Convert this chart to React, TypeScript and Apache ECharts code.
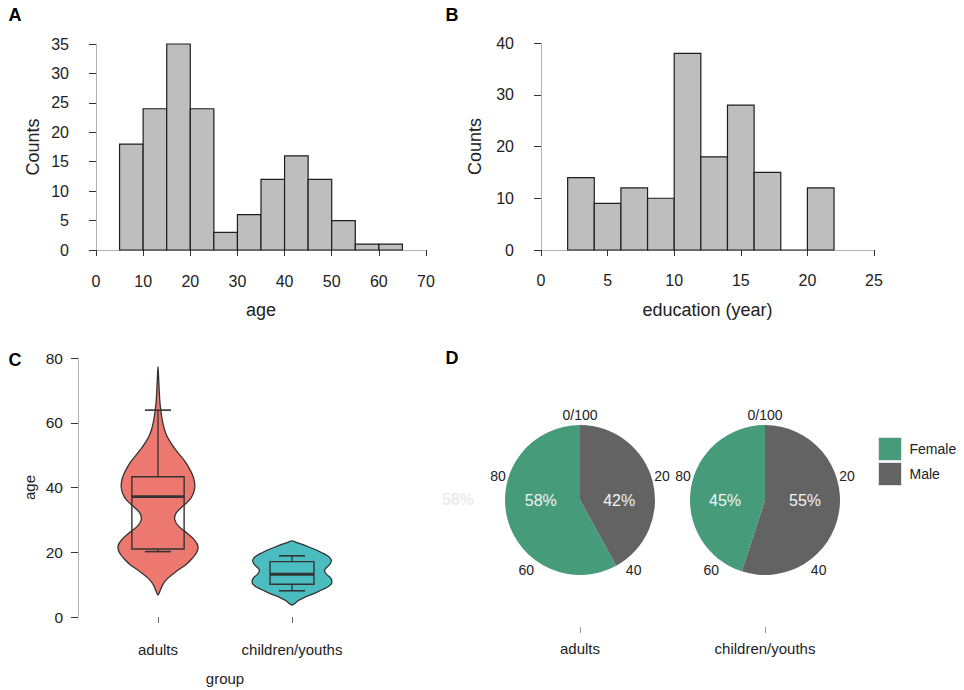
import React, { useEffect, useRef } from 'react';
import * as echarts from 'echarts';

// ---------- data ----------
const ageEdges = [5, 10, 15, 20, 25, 30, 35, 40, 45, 50, 55, 60, 65];
const ageCounts = [18, 24, 35, 24, 3, 6, 12, 16, 12, 5, 1, 1];

const eduEdges = [2, 4, 6, 8, 10, 12, 14, 16, 18, 20, 22];
const eduCounts = [14, 9, 12, 10, 38, 18, 28, 15, 0, 12];

const groups = ['adults', 'children/youths'];

// violin outlines: age and relative half-width (1 = widest)
const adultsViolinAge = [6.8, 8, 10, 12, 14, 16, 18, 20, 22, 24, 26, 28, 30, 32, 34, 36, 38, 40, 42, 44, 46, 48, 50, 52, 54, 56, 58, 60, 62, 64, 66, 70, 74, 77.3];
const adultsViolinWidth = [0, 0.05, 0.12, 0.25, 0.45, 0.68, 0.85, 0.97, 1.0, 0.9, 0.72, 0.52, 0.42, 0.45, 0.6, 0.78, 0.88, 0.92, 0.91, 0.86, 0.78, 0.68, 0.55, 0.42, 0.31, 0.22, 0.16, 0.12, 0.09, 0.07, 0.05, 0.03, 0.015, 0];
const childrenViolinAge = [3.7, 5, 6, 7, 8, 9, 10, 11, 12, 13, 14, 15, 16, 17, 18, 19, 20, 21, 22, 23, 23.5];
const childrenViolinWidth = [0, 0.15, 0.3, 0.5, 0.68, 0.85, 0.97, 1.0, 0.97, 0.88, 0.82, 0.84, 0.93, 0.98, 0.97, 0.88, 0.72, 0.55, 0.35, 0.12, 0];

// box stats: [lower whisker, Q1, median, Q3, upper whisker]
const adultsBox = [20.2, 21, 37.2, 43.3, 63.9];
const childrenBox = [8.1, 10.1, 13.2, 17.1, 18.9];

const genderNames = ['Female', 'Male'];
const adultsGender = [58, 42];
const childrenGender = [45, 55];

// ---------- style ----------
const FONT = '"Liberation Sans", Arial, Helvetica, sans-serif';
const TXT = '#222';
const AXIS_LINE = '#b4b4b4';
const TICK = '#333';
const VIOLIN_COLORS = ['#ED7870', '#4BBDC0'];
const GENDER_COLORS = { Female: '#469B7A', Male: '#636363' };
const PIE_CENTERS = [[580, 500], [765, 500]];
const PIE_R = 75;

const violins = [
  { ages: adultsViolinAge, widths: adultsViolinWidth, box: adultsBox, boxHalf: 0.195 },
  { ages: childrenViolinAge, widths: childrenViolinWidth, box: childrenBox, boxHalf: 0.164 },
];

const histData = (edges: number[], counts: number[]) =>
  counts.map((c, i) => [edges[i], edges[i + 1], c]);

const histRender = (params: any, api: any) => {
  const x0 = api.value(0), x1 = api.value(1), c = api.value(2);
  const a = api.coord([x0, c]);
  const b = api.coord([x1, 0]);
  return {
    type: 'rect',
    shape: { x: a[0], y: a[1], width: b[0] - a[0], height: b[1] - a[1] },
    style: { fill: '#BEBEBE', stroke: '#1e1e1e', lineWidth: 1.2 },
  };
};

const violinRender = (params: any, api: any) => {
  const idx = params.dataIndex;
  const v = violins[idx];
  const band = api.size([1, 0])[0];
  const cx = api.coord([idx, 0])[0];
  const scale = band * 0.298;
  const right = v.ages.map((a, i) => [cx + v.widths[i] * scale, api.coord([idx, a])[1]]);
  const left: number[][] = [];
  for (let i = v.ages.length - 2; i >= 1; i--) {
    left.push([cx - v.widths[i] * scale, api.coord([idx, v.ages[i]])[1]]);
  }
  const [lo, q1, med, q3, hi] = v.box;
  const yLo = api.coord([idx, lo])[1];
  const yQ1 = api.coord([idx, q1])[1];
  const yMed = api.coord([idx, med])[1];
  const yQ3 = api.coord([idx, q3])[1];
  const yHi = api.coord([idx, hi])[1];
  const hw = band * v.boxHalf;
  const cap = band * 0.097;
  const stroke = '#333';
  return {
    type: 'group',
    children: [
      {
        type: 'polygon',
        shape: { points: right.concat(left), smooth: 0.35 },
        style: { fill: VIOLIN_COLORS[idx], stroke, lineWidth: 1.3 },
      },
      { type: 'line', shape: { x1: cx, y1: yQ3, x2: cx, y2: yHi }, style: { stroke, lineWidth: 1.3 } },
      { type: 'line', shape: { x1: cx, y1: yQ1, x2: cx, y2: yLo }, style: { stroke, lineWidth: 1.3 } },
      { type: 'line', shape: { x1: cx - cap, y1: yHi, x2: cx + cap, y2: yHi }, style: { stroke, lineWidth: 1.6 } },
      { type: 'line', shape: { x1: cx - cap, y1: yLo, x2: cx + cap, y2: yLo }, style: { stroke, lineWidth: 1.6 } },
      {
        type: 'rect',
        shape: { x: cx - hw, y: yQ3, width: 2 * hw, height: yQ1 - yQ3 },
        style: { fill: 'none', stroke, lineWidth: 1.4 },
      },
      { type: 'line', shape: { x1: cx - hw, y1: yMed, x2: cx + hw, y2: yMed }, style: { stroke, lineWidth: 2.8 } },
    ],
  };
};

const valueY = (min: number, max: number, interval: number, offset: number, name: string, nameGap: number, margin: number, fs: number, nameFs: number, gridIndex: number) => ({
  type: 'value', gridIndex, min, max, interval, offset,
  name, nameLocation: 'middle', nameGap, nameRotate: 90,
  nameTextStyle: { fontSize: nameFs, color: TXT, fontFamily: FONT },
  axisLine: { show: true, lineStyle: { color: AXIS_LINE, width: 1 } },
  axisTick: { show: true, length: 7, lineStyle: { color: TICK, width: 1 } },
  axisLabel: { margin, fontSize: fs, color: TXT, fontFamily: FONT },
  splitLine: { show: false },
});

const valueX = (min: number, max: number, interval: number, offset: number, name: string, nameGap: number, margin: number, gridIndex: number) => ({
  type: 'value', gridIndex, min, max, interval, offset,
  name, nameLocation: 'middle', nameGap,
  nameTextStyle: { fontSize: 18, color: TXT, fontFamily: FONT },
  axisLine: { show: true, lineStyle: { color: AXIS_LINE, width: 1 } },
  axisTick: { show: true, length: 6, lineStyle: { color: TICK, width: 1 } },
  axisLabel: { margin, fontSize: 16, color: TXT, fontFamily: FONT },
  splitLine: { show: false },
});

const pieSeries = (values: number[], center: number[]) => ({
  type: 'pie',
  center,
  radius: PIE_R,
  startAngle: 90,
  clockwise: true,
  avoidLabelOverlap: false,
  data: [
    { name: genderNames[1], value: values[1], itemStyle: { color: GENDER_COLORS.Male } },
    { name: genderNames[0], value: values[0], itemStyle: { color: GENDER_COLORS.Female } },
  ],
  itemStyle: { borderWidth: 0 },
  label: {
    show: true,
    position: 'inside',
    formatter: (p: any) => Math.round(p.percent) + '%',
    color: '#f4f4f4',
    fontSize: 16,
    fontFamily: FONT,
  },
  labelLine: { show: false },
  labelLayout: (p: any) => ({
    x: p.labelRect.x + p.labelRect.width / 2,
    y: center[1],
    align: 'center',
    verticalAlign: 'middle',
  }),
  emphasis: { disabled: true },
});

const angleAxis = (polarIndex: number) => ({
  polarIndex,
  type: 'value',
  min: 0,
  max: 100,
  interval: 20,
  startAngle: 90,
  clockwise: true,
  axisLine: { show: false },
  axisTick: { show: false },
  splitLine: { show: false },
  axisLabel: {
    margin: -4,
    fontSize: 14,
    color: TXT,
    fontFamily: FONT,
    formatter: (v: number) => (v === 0 ? '0/100' : String(v)),
  },
});

const panelLetter = (text: string, x: number, y: number) => ({
  type: 'text', x, y,
  style: { text, fill: '#000', font: `bold 18px ${FONT}`, textAlign: 'center', textVerticalAlign: 'middle' },
});

export default function App() {
  const ref = useRef<HTMLDivElement>(null);
  useEffect(() => {
    if (!ref.current) return;
    const chart = echarts.init(ref.current, undefined, { renderer: 'svg' });
    const option: any = {
      animation: false,
      backgroundColor: '#ffffff',
      textStyle: { fontFamily: FONT },
      grid: [
        { left: 96, top: 44, width: 330, height: 206 },
        { left: 541, top: 43, width: 333, height: 207 },
        { left: 91, top: 358, width: 268, height: 259 },
        { left: 487.5, top: 420, width: 370, height: 207 },
      ],
      xAxis: [
        valueX(0, 70, 10, 12, 'age', 39, 11, 0),
        valueX(0, 25, 5, 11, 'education (year)', 40, 11, 1),
        {
          type: 'category', gridIndex: 2, data: groups, offset: 14,
          name: 'group', nameLocation: 'middle', nameGap: 40,
          nameTextStyle: { fontSize: 15, color: TXT, fontFamily: FONT },
          axisLine: { show: false },
          axisTick: { show: true, alignWithLabel: true, length: 6, lineStyle: { color: '#666' } },
          axisLabel: { margin: 11, fontSize: 15, color: TXT, fontFamily: FONT },
        },
        {
          type: 'category', gridIndex: 3, data: groups,
          axisLine: { show: false },
          axisTick: { show: true, alignWithLabel: true, length: 6, lineStyle: { color: '#999' } },
          axisLabel: { margin: 14, fontSize: 15, color: TXT, fontFamily: FONT },
        },
      ],
      yAxis: [
        valueY(0, 35, 5, 16, 'Counts', 38, 11, 16, 18, 0),
        valueY(0, 40, 10, 17, 'Counts', 40, 10, 16, 18, 1),
        valueY(0, 80, 20, 13, 'age', 41, 15, 15.5, 15, 2),
        { type: 'value', gridIndex: 3, min: 0, max: 1, show: false },
      ],
      polar: [
        { center: PIE_CENTERS[0], radius: 82 },
        { center: PIE_CENTERS[1], radius: 82 },
      ],
      angleAxis: [angleAxis(0), angleAxis(1)],
      radiusAxis: [
        { polarIndex: 0, type: 'value', min: 0, max: 1, show: false },
        { polarIndex: 1, type: 'value', min: 0, max: 1, show: false },
      ],
      legend: {
        data: genderNames,
        orient: 'vertical',
        left: 873,
        top: 432,
        itemWidth: 23,
        itemHeight: 23,
        itemGap: 1,
        icon: 'rect',
        selectedMode: false,
        itemStyle: { borderColor: '#e2e2e2', borderWidth: 1 },
        textStyle: { fontSize: 14, color: TXT, fontFamily: FONT, padding: [0, 0, 0, 3] },
      },
      series: [
        {
          type: 'custom', xAxisIndex: 0, yAxisIndex: 0,
          data: histData(ageEdges, ageCounts),
          encode: { x: [0, 1], y: 2 },
          renderItem: histRender,
        },
        {
          type: 'custom', xAxisIndex: 1, yAxisIndex: 1,
          data: histData(eduEdges, eduCounts),
          encode: { x: [0, 1], y: 2 },
          renderItem: histRender,
        },
        {
          type: 'custom', xAxisIndex: 2, yAxisIndex: 2,
          data: [[0, adultsBox[2]], [1, childrenBox[2]]],
          encode: { x: 0, y: 1 },
          renderItem: violinRender,
        },
        pieSeries(adultsGender, PIE_CENTERS[0]),
        pieSeries(childrenGender, PIE_CENTERS[1]),
      ],
      graphic: [
        panelLetter('A', 15, 15),
        panelLetter('B', 452, 15),
        panelLetter('C', 15, 360),
        panelLetter('D', 452, 358),
        {
          type: 'text', x: 458, y: 499,
          style: { text: adultsGender[0] + '%', fill: '#ececec', font: `bold 16px ${FONT}`, textAlign: 'center', textVerticalAlign: 'middle' },
        },
      ],
    };
    chart.setOption(option);
    return () => chart.dispose();
  }, []);
  return (
    <div
      ref={ref}
      style={{ position: 'fixed', left: 0, top: 0, width: 964, height: 690, background: '#fff' }}
    />
  );
}
